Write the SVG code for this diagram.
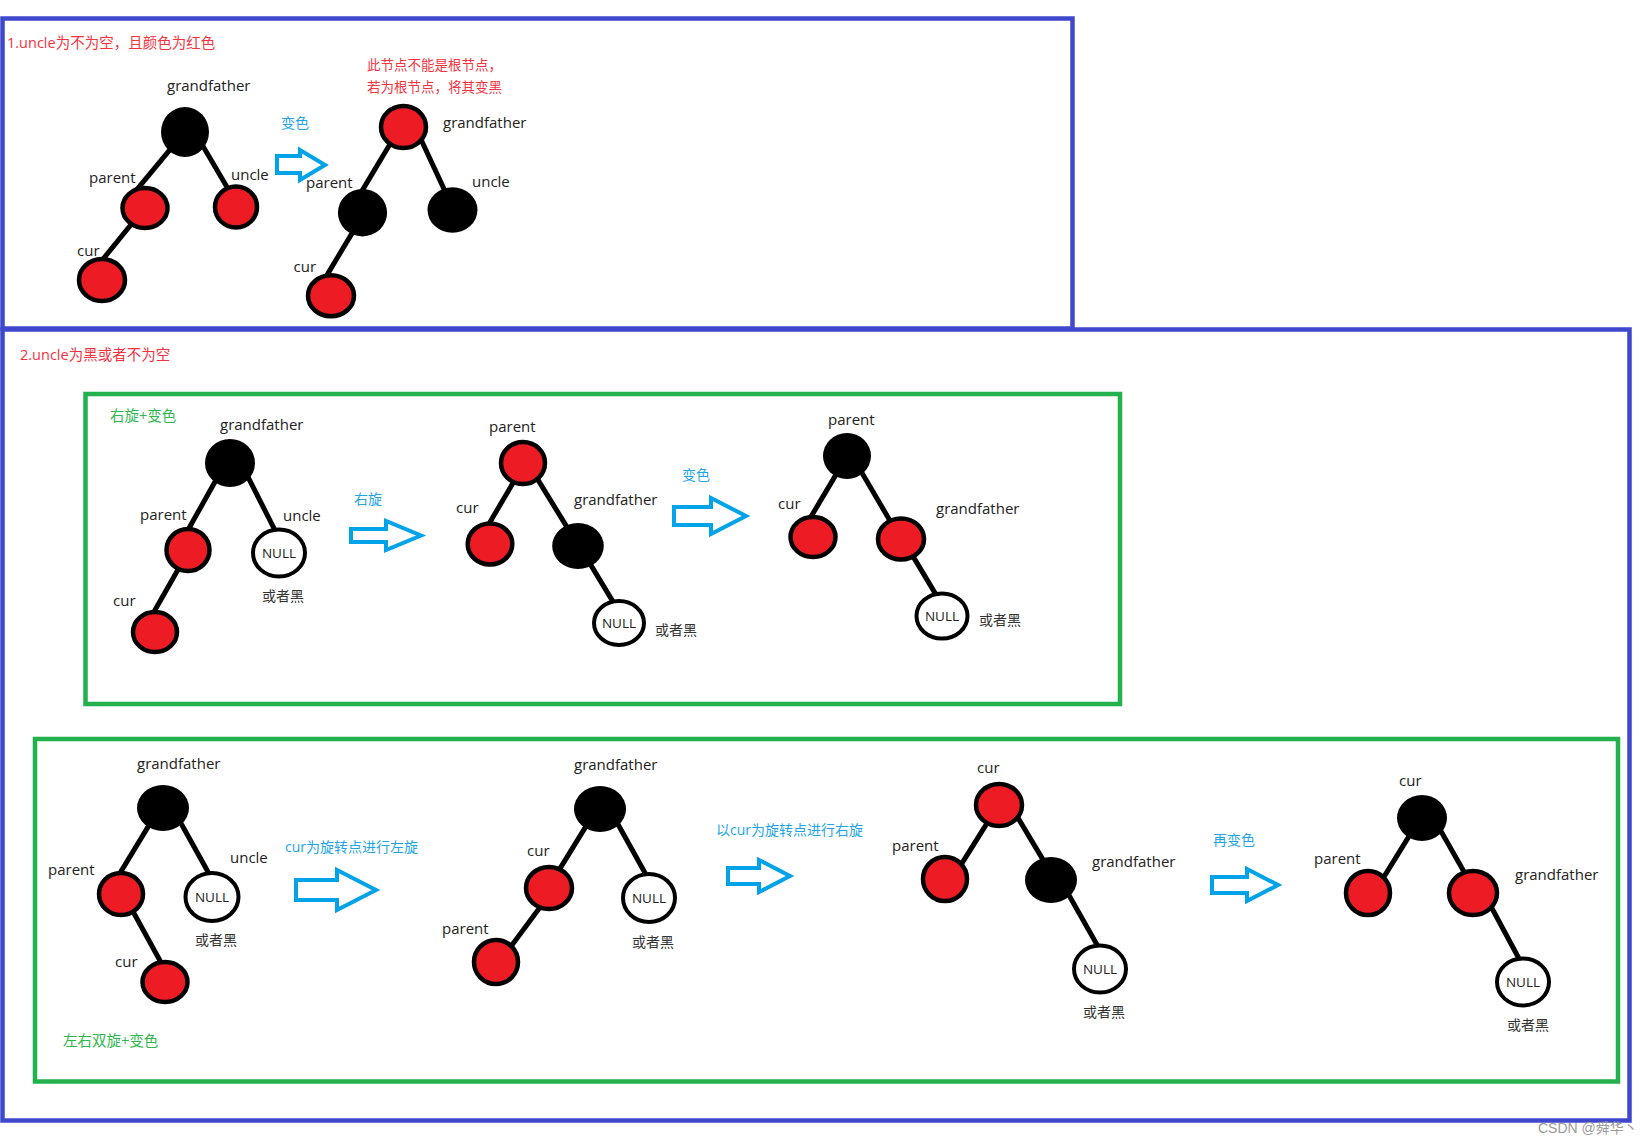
<svg xmlns="http://www.w3.org/2000/svg" width="1647" height="1144" viewBox="0 0 1647 1144">
<style>
.r{fill:#ED1C24;stroke:#000;stroke-width:4.5}
.b{fill:#000}
.n{fill:#fff;stroke:#000;stroke-width:4}
.ln{stroke:#000;stroke-width:5;stroke-linecap:butt;fill:none}
.arr{fill:none;stroke:#00A2E8;stroke-width:4;stroke-linejoin:miter}
.bx{fill:none;stroke:#3F48CC;stroke-width:4.5}
.gx{fill:none;stroke:#22B14C;stroke-width:4.5}
text{font-family:"Open Sans","Noto Sans","Noto Sans CJK SC",sans-serif}
.lbl{font-size:15px;fill:#222}
.nul{font-size:13.5px;fill:#222;text-anchor:middle}
.cj{font-family:"Noto Sans CJK SC",sans-serif;font-size:14px;fill:#333}
.red{font-size:14.5px;fill:#F5333F}
.redn{font-size:13.5px;fill:#F5333F}
.blu{font-size:14px;fill:#1EA5E6}
.grn{font-size:14.5px;fill:#2DB84F}
.wm{font-family:"Liberation Sans","Noto Sans CJK SC",sans-serif;font-size:14px;fill:#9a9a9a}
</style>

<g id="frames">
<rect class="bx" x="2.5" y="18.5" width="1070" height="310"/>
<rect class="bx" x="2.5" y="329.5" width="1627" height="791"/>
<rect class="gx" x="85.5" y="394" width="1034.5" height="310"/>
<rect class="gx" x="35" y="739" width="1583" height="342.5"/>
</g>

<g id="titles">
<text class="red" x="7" y="48">1.uncle为不为空，且颜色为红色</text>
<text class="redn" x="367" y="70">此节点不能是根节点，</text>
<text class="redn" x="367" y="92">若为根节点，将其变黑</text>
<text class="red" x="20" y="360">2.uncle为黑或者不为空</text>
<text class="grn" x="110" y="421">右旋+变色</text>
<text class="grn" x="63" y="1046">左右双旋+变色</text>
</g>

<g id="connectors">
<line class="ln" x1="170.6" y1="148.9" x2="136.4" y2="190.1"/>
<line class="ln" x1="202" y1="144.6" x2="229" y2="190.4"/>
<line class="ln" x1="131.5" y1="224" x2="101.5" y2="261"/>

<line class="ln" x1="390.5" y1="143.3" x2="360.5" y2="193.4"/>
<line class="ln" x1="421" y1="139.5" x2="445.7" y2="192.6"/>
<line class="ln" x1="353" y1="231.6" x2="325" y2="278.4"/>

<line class="ln" x1="216" y1="480" x2="187" y2="531.8"/>
<line class="ln" x1="247.7" y1="476.4" x2="275.8" y2="531.9"/>
<line class="ln" x1="178.8" y1="568.2" x2="153" y2="613.5"/>

<line class="ln" x1="515" y1="479.6" x2="488" y2="525.4"/>
<line class="ln" x1="536" y1="476.6" x2="569" y2="530.4"/>
<line class="ln" x1="590" y1="563.6" x2="614" y2="603.4"/>

<line class="ln" x1="836" y1="474.6" x2="810" y2="518.4"/>
<line class="ln" x1="860" y1="469.6" x2="891" y2="522.4"/>
<line class="ln" x1="912" y1="554.6" x2="937" y2="596.4"/>

<line class="ln" x1="150" y1="823.6" x2="118" y2="876.4"/>
<line class="ln" x1="180" y1="821.5" x2="210" y2="875.5"/>
<line class="ln" x1="133" y1="911.5" x2="161" y2="962.5"/>

<line class="ln" x1="587" y1="824.6" x2="557" y2="873.4"/>
<line class="ln" x1="617" y1="822.5" x2="647" y2="876.5"/>
<line class="ln" x1="540.4" y1="906.8" x2="509.6" y2="948.2"/>

<line class="ln" x1="988" y1="821.6" x2="960" y2="866.4"/>
<line class="ln" x1="1016" y1="814.6" x2="1044" y2="861.4"/>
<line class="ln" x1="1068" y1="893.5" x2="1098" y2="946.5"/>

<line class="ln" x1="1410" y1="834.6" x2="1383" y2="878.4"/>
<line class="ln" x1="1440" y1="829.5" x2="1465" y2="873.5"/>
<line class="ln" x1="1491" y1="906.5" x2="1520" y2="960.5"/>
</g>

<g id="arrows">
<g id="arrow-a"><polygon class="arr" points="277,156 300,156 300,150 325,165 300,180 300,173 277,173"/><text class="blu" x="281" y="128">变色</text></g>
<g id="arrow-c"><polygon class="arr" points="351,529 386,529 386,521 421,535.5 386,550 386,542 351,542"/><text class="blu" x="354" y="504">右旋</text></g>
<g id="arrow-d"><polygon class="arr" points="674,507 711,507 711,498 746,516 711,534 711,525 674,525"/><text class="blu" x="682" y="480">变色</text></g>
<g id="arrow-f"><polygon class="arr" points="296,880 337,880 337,870 376,890 337,910 337,900 296,900"/><text class="blu" x="285" y="852">cur为旋转点进行左旋</text></g>
<g id="arrow-g"><polygon class="arr" points="728,868 759,868 759,860 790,876 759,892 759,884 728,884"/><text class="blu" x="716" y="835">以cur为旋转点进行右旋</text></g>
<g id="arrow-h"><polygon class="arr" points="1212,877 1247,877 1247,869 1278,885 1247,901 1247,893 1212,893"/><text class="blu" x="1213" y="845">再变色</text></g>
</g>

<!-- Section 1, tree A -->
<g id="a-gf"><ellipse class="b" cx="185" cy="132" rx="24" ry="25"/><text class="lbl" x="167" y="91">grandfather</text></g>
<g id="a-parent"><ellipse class="r" cx="145" cy="208" rx="22.5" ry="20"/><text class="lbl" x="89" y="183">parent</text></g>
<g id="a-uncle"><ellipse class="r" cx="236" cy="207" rx="21" ry="20.5"/><text class="lbl" x="231" y="180">uncle</text></g>
<g id="a-cur"><ellipse class="r" cx="102" cy="280" rx="23" ry="21"/><text class="lbl" x="77" y="256">cur</text></g>

<!-- Section 1, tree B -->
<g id="b-gf"><ellipse class="r" cx="403.5" cy="127" rx="22.5" ry="21"/><text class="lbl" x="443" y="128">grandfather</text></g>
<g id="b-parent"><ellipse class="b" cx="362.5" cy="212.7" rx="24.6" ry="23.7"/><text class="lbl" x="306" y="188">parent</text></g>
<g id="b-uncle"><ellipse class="b" cx="452.5" cy="210" rx="25" ry="22.7"/><text class="lbl" x="472" y="187">uncle</text></g>
<g id="b-cur"><ellipse class="r" cx="331" cy="295.7" rx="23" ry="20.5"/><text class="lbl" x="293.6" y="272">cur</text></g>

<!-- Green box 1, tree C -->
<g id="c-gf"><ellipse class="b" cx="230" cy="463" rx="25" ry="24"/><text class="lbl" x="220" y="430">grandfather</text></g>
<g id="c-parent"><ellipse class="r" cx="188" cy="550" rx="21.5" ry="21"/><text class="lbl" x="140" y="520">parent</text></g>
<g id="c-uncle"><ellipse class="n" cx="279" cy="553" rx="26" ry="23.5"/><text class="nul" x="279" y="557.5">NULL</text><text class="lbl" x="283" y="521">uncle</text><text class="cj" x="262" y="601">或者黑</text></g>
<g id="c-cur"><ellipse class="r" cx="155" cy="632" rx="22" ry="20"/><text class="lbl" x="113" y="606">cur</text></g>

<!-- Green box 1, tree D -->
<g id="d-parent"><ellipse class="r" cx="523" cy="463" rx="22" ry="21"/><text class="lbl" x="489" y="432">parent</text></g>
<g id="d-cur"><ellipse class="r" cx="490" cy="544" rx="22.3" ry="20.5"/><text class="lbl" x="456" y="513">cur</text></g>
<g id="d-gf"><ellipse class="b" cx="578" cy="546" rx="25.8" ry="23"/><text class="lbl" x="574" y="505">grandfather</text></g>
<g id="d-null"><ellipse class="n" cx="619" cy="623" rx="25" ry="22"/><text class="nul" x="619" y="628">NULL</text><text class="cj" x="655" y="635">或者黑</text></g>

<!-- Green box 1, tree E -->
<g id="e-parent"><ellipse class="b" cx="847" cy="456" rx="24" ry="23"/><text class="lbl" x="828" y="425">parent</text></g>
<g id="e-cur"><ellipse class="r" cx="813" cy="537" rx="22.5" ry="20"/><text class="lbl" x="778" y="509">cur</text></g>
<g id="e-gf"><ellipse class="r" cx="901" cy="539" rx="23" ry="20.5"/><text class="lbl" x="936" y="514">grandfather</text></g>
<g id="e-null"><ellipse class="n" cx="942" cy="616" rx="25.5" ry="22.5"/><text class="nul" x="942" y="621">NULL</text><text class="cj" x="979" y="625">或者黑</text></g>

<!-- Green box 2, tree F -->
<g id="f-gf"><ellipse class="b" cx="163" cy="808" rx="26" ry="23"/><text class="lbl" x="137" y="769">grandfather</text></g>
<g id="f-parent"><ellipse class="r" cx="121" cy="894" rx="22" ry="21"/><text class="lbl" x="48" y="875">parent</text></g>
<g id="f-uncle"><ellipse class="n" cx="212" cy="897" rx="26.5" ry="24"/><text class="nul" x="212" y="901.5">NULL</text><text class="lbl" x="230" y="863">uncle</text><text class="cj" x="195" y="945">或者黑</text></g>
<g id="f-cur"><ellipse class="r" cx="165" cy="982" rx="22.5" ry="20"/><text class="lbl" x="115" y="967">cur</text></g>

<!-- Green box 2, tree G -->
<g id="g-gf"><ellipse class="b" cx="600" cy="809" rx="26" ry="23"/><text class="lbl" x="574" y="770">grandfather</text></g>
<g id="g-cur"><ellipse class="r" cx="549" cy="888" rx="23" ry="21"/><text class="lbl" x="527" y="856">cur</text></g>
<g id="g-parent"><ellipse class="r" cx="496" cy="962" rx="22" ry="22"/><text class="lbl" x="442" y="934">parent</text></g>
<g id="g-null"><ellipse class="n" cx="649" cy="898" rx="26" ry="24"/><text class="nul" x="649" y="902.5">NULL</text><text class="cj" x="632" y="947">或者黑</text></g>

<!-- Green box 2, tree H -->
<g id="h-cur"><ellipse class="r" cx="999" cy="805" rx="23" ry="21"/><text class="lbl" x="977" y="773">cur</text></g>
<g id="h-parent"><ellipse class="r" cx="945" cy="879" rx="22" ry="22"/><text class="lbl" x="892" y="851">parent</text></g>
<g id="h-gf"><ellipse class="b" cx="1051" cy="880" rx="26" ry="23"/><text class="lbl" x="1092" y="867">grandfather</text></g>
<g id="h-null"><ellipse class="n" cx="1100" cy="969" rx="26" ry="23.5"/><text class="nul" x="1100" y="973.5">NULL</text><text class="cj" x="1083" y="1017">或者黑</text></g>

<!-- Green box 2, tree I -->
<g id="i-cur"><ellipse class="b" cx="1422" cy="818" rx="25" ry="23"/><text class="lbl" x="1399" y="786">cur</text></g>
<g id="i-parent"><ellipse class="r" cx="1368" cy="893" rx="22" ry="22"/><text class="lbl" x="1314" y="864">parent</text></g>
<g id="i-gf"><ellipse class="r" cx="1473" cy="893" rx="24" ry="22"/><text class="lbl" x="1515" y="880">grandfather</text></g>
<g id="i-null"><ellipse class="n" cx="1523" cy="982" rx="26" ry="23.5"/><text class="nul" x="1523" y="986.5">NULL</text><text class="cj" x="1507" y="1030">或者黑</text></g>

<text class="wm" x="1538" y="1133">CSDN @舜华丶</text>
</svg>
